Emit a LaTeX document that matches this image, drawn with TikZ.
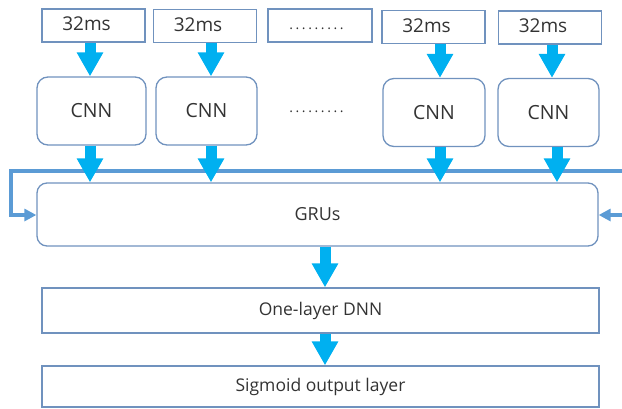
\documentclass[tikz,border=0pt]{standalone}
\usepackage{fontspec}
\setmainfont{Open Sans}
\usetikzlibrary{arrows.meta}
\definecolor{fatblue}{HTML}{00B0F0}
\definecolor{fbblue}{HTML}{5B9BD5}
\definecolor{boxline}{HTML}{7092BE}
\definecolor{txt}{HTML}{333333}
\newcommand{\spdots}{.\kern2.6pt.\kern2.6pt.\kern2.6pt.\kern2.6pt.\kern2.6pt.\kern2.6pt.\kern2.6pt.\kern2.6pt.}
\newcommand{\msl}{\kern-14pt\raisebox{3pt}{32ms}}
\tikzset{
  inbox/.style={draw=boxline,line width=1.3pt,minimum width=103pt,minimum height=33pt,inner sep=0pt,text=txt,font=\fontsize{19}{21}\selectfont},
  cnnbox/.style={draw=boxline,line width=1.3pt,rounded corners=11pt,minimum width=104pt,minimum height=68pt,inner sep=0pt,text=txt,font=\fontsize{19.5}{21}\selectfont},
  widebox/.style={draw=boxline,line width=1.3pt,minimum width=557pt,inner sep=0pt,text=txt,font=\fontsize{17.5}{19}\selectfont},
  fat/.style={fatblue,line width=11pt,-{Triangle[width=25pt,length=24pt]}},
  fb/.style={fbblue,line width=3.5pt},
  fbarrow/.style={fbblue,line width=3.5pt,-{Triangle[width=12pt,length=12pt]}},
  dots/.style={text=txt,font=\fontsize{14}{16}\selectfont,inner sep=0pt}
}
\begin{document}
\begin{tikzpicture}[x=1pt,y=-1pt]
\useasboundingbox (0,0) rectangle (622,408);
% input boxes
\node[inbox] (in1) at (93.5,25.5) {\msl};
\node[inbox] (in2) at (205,26) {\msl};
\node[inbox,minimum width=104pt] (in3) at (320,25.5) {};
\node[dots] (d1) at (316.5,29) {\spdots};
\node[inbox] (in4) at (433.5,27) {\msl};
\node[inbox] (in5) at (550,27.5) {\msl};
% CNN boxes
\node[cnnbox,minimum width=109pt] (cnn1) at (91.5,111) {CNN};
\node[cnnbox,minimum width=101pt] (cnn2) at (206.5,111) {CNN};
\node[dots] (d2) at (316.5,112) {\spdots};
\node[cnnbox,minimum width=102pt] (cnn4) at (434,112.5) {CNN};
\node[cnnbox,minimum width=101pt] (cnn5) at (548.5,112.5) {CNN};
% GRU
\node[widebox,rounded corners=10pt,minimum width=561pt,minimum height=63pt,font=\fontsize{18}{20}\selectfont] (gru) at (317.5,214.5) {GRUs};
\node[widebox,minimum height=45pt] (dnn) at (320.5,310.5) {One-layer DNN};
\node[widebox,minimum height=41pt] (sig) at (320.5,386.5) {Sigmoid output layer};
% feedback line
\coordinate (fbR) at (622,171);
\coordinate (fbL) at (11,171);
\coordinate (fbD) at (11,215);
\coordinate (fbE) at (622,215);
\draw[fb] (fbR) -- (fbL) -- (fbD);
\draw[fbarrow] (9.25,215) -- (gru.west |- fbD);
\draw[fbarrow] (fbE) -- (gru.east |- fbE);
% fat arrows input -> CNN
\draw[fat] (in1.south -| 90,0) -- (cnn1.north -| 90,0);
\draw[fat] (in2.south -| 211,0) -- (cnn2.north -| 211,0);
\draw[fat] (in4.south -| 440,0) -- (cnn4.north -| 440,0);
\draw[fat] (in5.south -| 552,0) -- (cnn5.north -| 552,0);
% fat arrows CNN -> GRU
\draw[fat] (cnn1.south -| 90,0) -- (gru.north -| 90,0);
\draw[fat] (cnn2.south -| 211,0) -- (gru.north -| 211,0);
\draw[fat] (cnn4.south -| 440,0) -- (gru.north -| 440,0);
\draw[fat] (cnn5.south -| 557,0) -- (gru.north -| 557,0);
% GRU -> DNN -> sigmoid
\draw[fat] (gru.south -| 325,0) -- (dnn.north -| 325,0);
\draw[fat] (dnn.south -| 325,0) -- (sig.north -| 325,0);
\end{tikzpicture}
\end{document}
